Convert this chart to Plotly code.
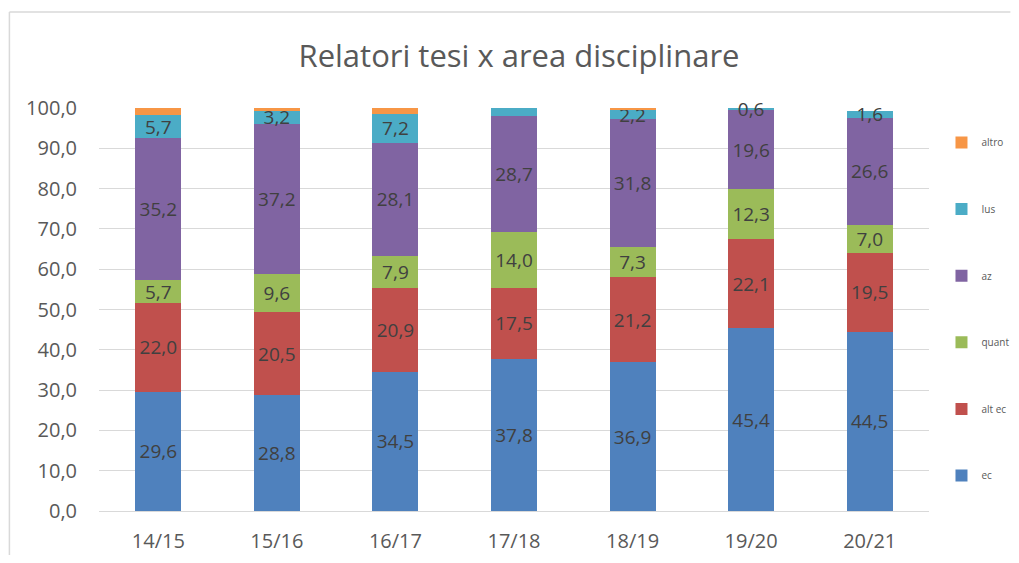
import plotly.graph_objects as go

categories = ["14/15", "15/16", "16/17", "17/18", "18/19", "19/20", "20/21"]
ec = [29.6, 28.8, 34.5, 37.8, 36.9, 45.4, 44.5]
alt_ec = [22.0, 20.5, 20.9, 17.5, 21.2, 22.1, 19.5]
quant = [5.7, 9.6, 7.9, 14.0, 7.3, 12.3, 7.0]
az = [35.2, 37.2, 28.1, 28.7, 31.8, 19.6, 26.6]
ius = [5.7, 3.2, 7.2, 2.1, 2.2, 0.6, 1.6]
altro = [1.8, 0.7, 1.4, 0.0, 0.6, 0.0, 0.0]

series = [
    ("ec", ec, "#4F81BD", True),
    ("alt ec", alt_ec, "#C0504D", True),
    ("quant", quant, "#9BBB59", True),
    ("az", az, "#8064A2", True),
    ("Ius", ius, "#4BACC6", True),
    ("altro", altro, "#F79646", False),
]

FONT = "Open Sans"
# page body has an 8px margin: keep the figure inside the window (no scrollbars)
W, H = 1003, 547
L, T, PW, PH = 90.5, 100, 831, 403

fig = go.Figure()
n = len(series)
for i, (name, vals, color, lab) in enumerate(series):
    fig.add_trace(go.Bar(
        x=categories, y=vals, name=name, legendgroup=name,
        legendrank=n - i,
        marker=dict(color=color, line=dict(width=0)),
        texttemplate="%{y:.1f}" if lab else None,
        textposition="inside" if lab else "none",
        insidetextanchor="middle",
        constraintext="none",
        textfont=dict(size=19, color="#404040", family=FONT),
        cliponaxis=False,
    ))

fig.update_layout(
    barmode="stack",
    bargap=0.613,
    separators=",.",
    width=W, height=H,
    margin=dict(l=L, r=W - L - PW, t=T, b=H - T - PH, autoexpand=False),
    paper_bgcolor="white", plot_bgcolor="white",
    title=dict(text="Relatori tesi x area disciplinare", x=(519 - 8) / W, xanchor="center",
               y=1 - 48 / H, yanchor="middle",
               font=dict(size=31, color="#595959", family=FONT)),
    font=dict(family=FONT, color="#595959"),
    legend=dict(traceorder="grouped", tracegroupgap=47.6,
                x=(934 - L) / PW, xanchor="left", y=(PH - 20) / PH, yanchor="top",
                font=dict(size=10, color="#595959", family=FONT),
                itemwidth=30, bgcolor="rgba(0,0,0,0)"),
    xaxis=dict(showgrid=False, showline=True, linecolor="#D9D9D9", linewidth=1,
               ticks="", ticklabelstandoff=12, tickfont=dict(size=20, color="#595959")),
    yaxis=dict(range=[0, 100], dtick=10, tickformat=".1f", showgrid=True,
               gridcolor="#D9D9D9", gridwidth=1, zeroline=False, showline=False,
               ticks="", ticklabelstandoff=21,
               tickfont=dict(size=20, color="#595959")),
    shapes=[
        dict(type="line", xref="paper", yref="paper", x0=(0.8 - L) / PW, x1=(W - L) / PW,
             y0=(T + PH - 4) / PH, y1=(T + PH - 4) / PH, line=dict(color="#D9D9D9", width=1.5)),
        dict(type="line", xref="paper", yref="paper", x0=(0.8 - L) / PW, x1=(0.8 - L) / PW,
             y0=(T + PH - 4) / PH, y1=-(H - T - PH) / PH, line=dict(color="#D9D9D9", width=1.5)),
    ],
)

fig.write_html("out.html", config={"displayModeBar": False})
